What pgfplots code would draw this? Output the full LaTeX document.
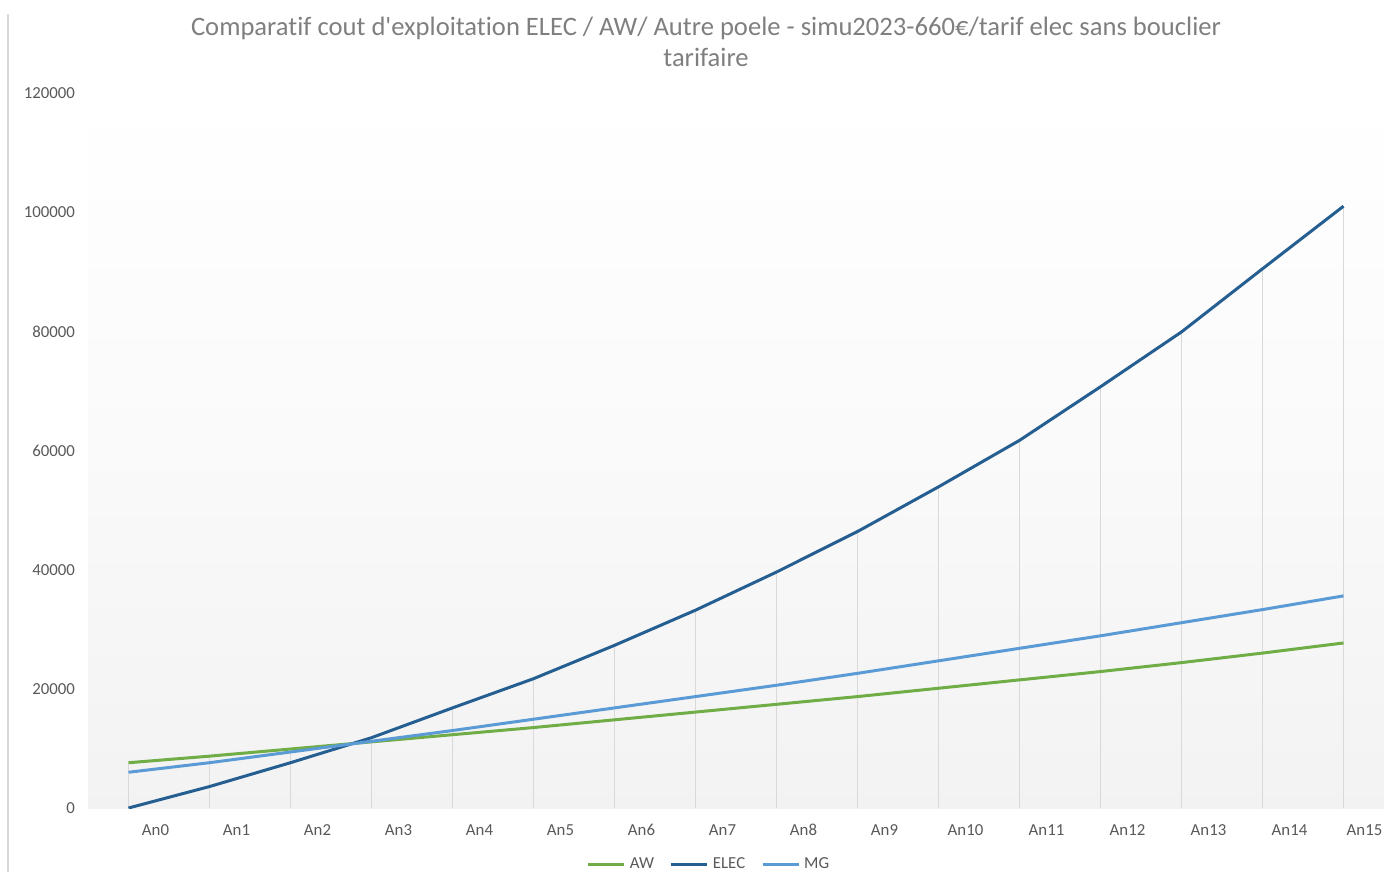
\documentclass[border=0pt]{standalone}
\usepackage{pgfplots}
\pgfplotsset{compat=1.18}
\usepackage{pgfplotstable}
\usepackage{fontspec}
\setmainfont{Carlito}[Ligatures={TeXOff,NoCommon}]
\definecolor{awc}{HTML}{70AD47}
\definecolor{elecc}{HTML}{255E91}
\definecolor{mgc}{HTML}{5B9BD5}
\definecolor{txt}{HTML}{595959}
\definecolor{ttl}{HTML}{7F7F7F}
\definecolor{grd}{HTML}{D9D9D9}
\pgfplotstableread{
x AW ELEC MG
0 7600 0 6000
1 8700 3600 7600
2 9900 7600 9400
3 11100 11800 11200
4 12300 16800 13000
5 13500 21700 14900
6 14800 27300 16800
7 16100 33200 18700
8 17400 39600 20600
9 18700 46400 22600
10 20100 53900 24700
11 21500 61700 26800
12 22900 70700 28900
13 24400 79900 31100
14 26000 90500 33300
15 27700 101000 35600
}\data
\begin{document}
\begin{tikzpicture}
\useasboundingbox (0,0) rectangle (692pt,436pt);
\draw[grd, line width=0.6pt] (4pt,0) -- (4pt,429pt);
\begin{axis}[
  at={(44pt,32pt)}, anchor=south west,
  scale only axis, width=648pt, height=357.5pt,
  xmin=-0.5, xmax=15.5, ymin=0, ymax=120000,
  axis lines*=left, axis line style={draw=none},
  major tick length=0,
  xtick={0,...,15},
  xticklabels={An0,An1,An2,An3,An4,An5,An6,An7,An8,An9,An10,An11,An12,An13,An14,\hspace*{-6pt}An15},
  xticklabel style={xshift=13.5pt, yshift=-4pt, text height=6pt, text depth=0pt, font=\fontsize{8.4}{10}\selectfont, text=txt},
  ytick={0,20000,...,120000},
  scaled y ticks=false,
  yticklabel style={/pgf/number format/fixed, /pgf/number format/set thousands separator={}, /pgf/number format/assume math mode=true, font=\fontsize{8.4}{10}\selectfont, text=txt, xshift=-3pt},
  axis background/.style={top color=white, bottom color=black!5, middle color=black!2},
  title={Comparatif cout d'exploitation ELEC / AW/ Autre poele - simu2023-660€/tarif elec sans bouclier\\tarifaire},
  title style={at={(0.4769,1.055)}, anchor=center, align=center, font=\fontsize{13.3}{15.5}\selectfont, text=ttl},
  legend columns=3,
  legend style={at={(0.48,-0.079)}, anchor=center, draw=none, fill=none, font=\fontsize{8.4}{10}\selectfont, text=txt, /tikz/every even column/.append style={column sep=6pt}},
  legend image code/.code={\draw[#1] (0pt,0pt) -- (18pt,0pt);},
]
\addplot[ycomb, grd, line width=0.6pt, forget plot] table[x=x, y=AW] {\data};
\addplot[ycomb, grd, line width=0.6pt, forget plot] table[x=x, y=ELEC] {\data};
\addplot[ycomb, grd, line width=0.6pt, forget plot] table[x=x, y=MG] {\data};
\addplot[awc, line width=1.5pt, mark=none] table[x=x, y=AW] {\data};
\addplot[elecc, line width=1.5pt, mark=none] table[x=x, y=ELEC] {\data};
\addplot[mgc, line width=1.5pt, mark=none] table[x=x, y=MG] {\data};
\legend{AW, ELEC, MG}
\end{axis}
\end{tikzpicture}
\end{document}
